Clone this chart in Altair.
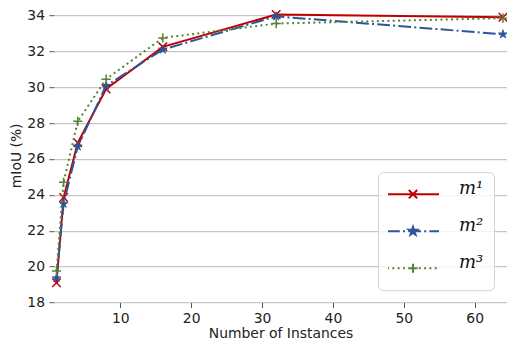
import math
import altair as alt
import pandas as pd

# ---------------- data ----------------
instances = [1, 2, 4, 8, 16, 32, 64]
m1_vals = [19.1, 23.85, 26.9, 29.9, 32.25, 34.05, 33.9]
m2_vals = [19.35, 23.5, 26.7, 30.08, 32.1, 33.95, 32.95]
m3_vals = [19.75, 24.7, 28.1, 30.45, 32.75, 33.55, 33.85]
series = ["m\u00b9", "m\u00b2", "m\u00b3"]
colors = ["#C00000", "#2F5597", "#548235"]
y_ticks = [18, 20, 22, 24, 26, 28, 30, 32, 34]
x_ticks = [10, 20, 30, 40, 50, 60]

rows = []
for name, vals in zip(series, [m1_vals, m2_vals, m3_vals]):
    for xv, yv in zip(instances, vals):
        rows.append({"n": xv, "miou": yv, "model": name})
df = pd.DataFrame(rows)

# ---------------- marker / legend symbol geometry (style) ----------------
X_PTS = [[(-1, -1), (1, 1)], [(-1, 1), (1, -1)]]
PLUS_PTS = [[(-1, 0), (1, 0)], [(0, -1), (0, 1)]]
STAR_PTS = []
for k in range(10):
    ang = math.radians(-90 + 36 * k)
    r = 1.0 if k % 2 == 0 else 0.382
    STAR_PTS.append((r * math.cos(ang), r * math.sin(ang)))


def open_path(segs, s=1.0):
    return "".join(
        "M" + "L".join(f"{p[0]*s:.4f},{p[1]*s:.4f}" for p in seg) for seg in segs
    )


def star_path(s=1.0):
    return "M" + "L".join(f"{x*s:.4f},{y*s:.4f}" for x, y in STAR_PTS) + "Z"


def dash_path(pattern, half=26.0):
    out = []
    pos = -half
    i = 0
    on = True
    while pos < half:
        L = pattern[i % len(pattern)]
        end = min(pos + L, half)
        if on:
            out.append(f"M{pos/half:.4f},0L{end/half:.4f},0")
        pos += L
        on = not on
        i += 1
    return "".join(out)


HALF = 26.0
legend_paths = [
    dash_path([60.0, 0.0]) + open_path(X_PTS, 4.2 / HALF),
    dash_path([12.8, 3.2, 2.0, 3.2]) + star_path(4.3 / HALF),
    dash_path([2.0, 3.3]) + open_path(PLUS_PTS, 4.5 / HALF),
]
marker_paths = [open_path(X_PTS), star_path(), open_path(PLUS_PTS)]
marker_sizes = [72, 85, 85]
marker_sw = [1.5, 0.8, 1.5]
dashes = [None, [12.8, 3.2, 2, 3.2], [2, 3.3]]

# ---------------- encodings ----------------
X = alt.X(
    "n:Q",
    scale=alt.Scale(domain=[0.647, 64.564], nice=False, zero=False),
    axis=alt.Axis(values=x_ticks, title="Number of Instances", grid=False,
                  domain=False, titlePadding=2, labelPadding=3.5, tickSize=5,
                  format="d"),
)
Y = alt.Y(
    "miou:Q",
    scale=alt.Scale(domain=[18, 34.405], nice=False, zero=False),
    axis=alt.Axis(values=y_ticks, title="mIoU (%)", grid=True, gridColor="#c6c6c6",
                  gridWidth=1.3, domain=False, titlePadding=3, labelPadding=4.5,
                  tickSize=5, format="d"),
)

layers = []
for name, col, dash, mp, ms, sw in zip(series, colors, dashes, marker_paths,
                                       marker_sizes, marker_sw):
    base = alt.Chart(df).transform_filter(alt.datum.model == name)
    line_kw = dict(color=col, strokeWidth=2)
    if dash is not None:
        line_kw["strokeDash"] = dash
    layers.append(base.mark_line(**line_kw).encode(x=X, y=Y))
    layers.append(
        base.mark_point(shape=mp, filled=True, fill=col, stroke=col, strokeWidth=sw,
                        size=ms, opacity=1).encode(x=X, y=Y)
    )

leg = alt.Legend(
    title=None, orient="none", legendX=324, legendY=164, padding=10,
    fillColor="rgba(255,255,255,0.8)", strokeColor="#d3d3d3", cornerRadius=5,
    symbolSize=2704, symbolStrokeWidth=2, symbolOpacity=1, symbolOffset=-2,
    clipHeight=24, rowPadding=11, labelOffset=19,
    labelFont="DejaVu Serif", labelFontStyle="italic", labelFontSize=18,
    labelColor="#111111", labelBaseline="alphabetic",
    labelExpr="datum.label + '\u2009'",
)

legend_layer = alt.Chart(df).transform_filter("false").mark_point(
    filled=True, opacity=1, strokeWidth=2
).encode(
    x=X, y=Y,
    fill=alt.Fill("model:N", scale=alt.Scale(domain=series, range=colors), legend=leg),
    stroke=alt.Stroke("model:N", scale=alt.Scale(domain=series, range=colors), legend=leg),
    shape=alt.Shape("model:N", scale=alt.Scale(domain=series, range=legend_paths), legend=leg),
)
layers.append(legend_layer)

chart = alt.layer(*layers).properties(
    width=453, height=294.3,
    autosize=alt.AutoSizeParams(type="none"),
    padding={"left": 46, "top": 0.2, "right": 0, "bottom": 40.5},
).configure_view(stroke=None).configure_axis(
    labelFont="DejaVu Sans", titleFont="DejaVu Sans", labelFontSize=13.9,
    titleFontSize=13.9, titleFontWeight="normal", labelColor="#222222",
    titleColor="#222222", tickColor="#555555", tickWidth=1,
)

chart.save("out.html", embed_options={"renderer": "svg", "actions": False})
